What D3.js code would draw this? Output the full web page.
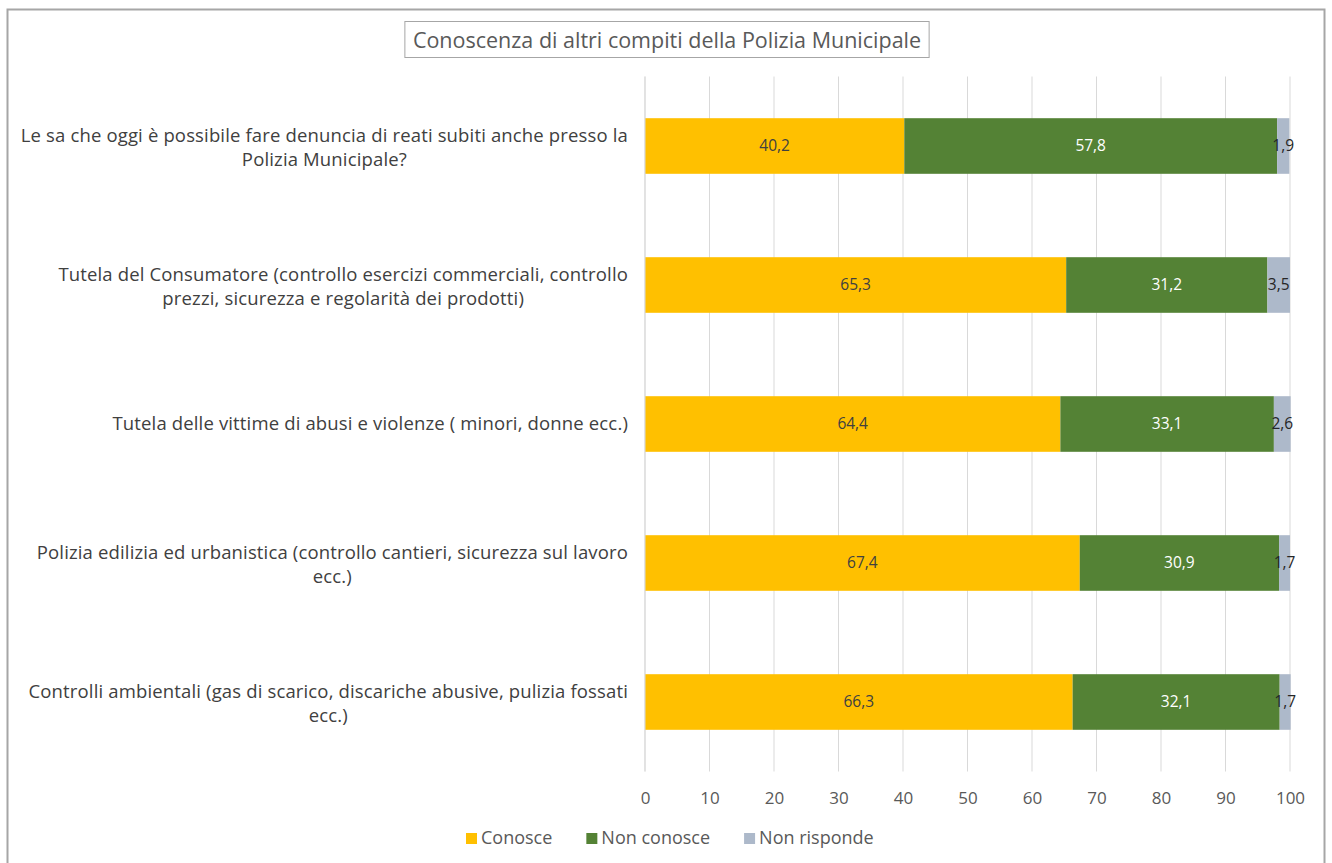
<!DOCTYPE html>
<html>
<head>
<meta charset="utf-8">
<script src="https://cdn.jsdelivr.net/npm/d3@7"></script>
<style>
  html, body { margin: 0; padding: 0; background: #fff; }
  svg { display: block; font-family: "Open Sans", Lato, sans-serif; }
</style>
</head>
<body>
<svg id="chart" width="1332" height="863"></svg>
<script>
// Survey answers, percentages per question
const categories = [
  "Le sa che oggi è possibile fare denuncia di reati subiti anche presso la\nPolizia Municipale?",
  "Tutela del Consumatore (controllo esercizi commerciali, controllo\nprezzi, sicurezza e regolarità dei prodotti)",
  "Tutela delle vittime di abusi e violenze ( minori, donne ecc.)",
  "Polizia edilizia ed urbanistica (controllo cantieri, sicurezza sul lavoro\necc.)",
  "Controlli ambientali (gas di scarico, discariche abusive, pulizia fossati\necc.)"
];
const seriesNames = ["Conosce", "Non conosce", "Non risponde"];
const conosce     = [40.2, 65.3, 64.4, 67.4, 66.3];
const nonConosce  = [57.8, 31.2, 33.1, 30.9, 32.1];
const nonRisponde = [1.9, 3.5, 2.6, 1.7, 1.7];
const xTicks = [0, 10, 20, 30, 40, 50, 60, 70, 80, 90, 100];
const titleText = "Conoscenza di altri compiti della Polizia Municipale";

const colors = ["#FFC000", "#548235", "#ADB9CA"];
const labelColors = ["#404040", "#ffffff", "#262626"];

const svg = d3.select("#chart");

// outer chart frame
svg.append("rect")
  .attr("x", 7.5).attr("y", 9.5).attr("width", 1317).attr("height", 870)
  .attr("fill", "#fff").attr("stroke", "#a6a6a6").attr("stroke-width", 2);

const margin = { left: 645, right: 42, top: 76.5, bottom: 91.5 };
const W = 1332, H = 863;

const x = d3.scaleLinear().domain([0, 100]).range([margin.left, W - margin.right]);
const y = d3.scaleBand().domain(d3.range(categories.length))
  .range([margin.top, H - margin.bottom]).paddingInner(0.6).paddingOuter(0.3);

// vertical gridlines
svg.append("g").selectAll("line").data(xTicks).join("line")
  .attr("x1", d => x(d)).attr("x2", d => x(d))
  .attr("y1", margin.top).attr("y2", H - margin.bottom)
  .attr("stroke", "#d9d9d9").attr("stroke-width", 1);

// x axis tick labels
const xAxis = d3.axisBottom(x).tickValues(xTicks).tickSize(0).tickPadding(20);
const gx = svg.append("g").attr("transform", `translate(0,${H - margin.bottom})`).call(xAxis);
gx.select(".domain").remove();
gx.selectAll("text").attr("fill", "#595959").style("font-size", "17px")
  .style("font-family", "'Open Sans', Lato, sans-serif");

// stacked series
const rows = categories.map((c, i) => ({ i, vals: [conosce[i], nonConosce[i], nonRisponde[i]] }));
const stacked = d3.stack().keys([0, 1, 2]).value((d, k) => d.vals[k])(rows);

const layers = svg.append("g").selectAll("g").data(stacked).join("g")
  .attr("fill", (d, k) => colors[k]);
layers.selectAll("rect").data(d => d).join("rect")
  .attr("x", d => x(d[0]))
  .attr("width", d => x(d[1]) - x(d[0]))
  .attr("y", d => y(d.data.i))
  .attr("height", y.bandwidth());

// value labels
const fmt = v => v.toFixed(1).replace(".", ",");
stacked.forEach((layer, k) => {
  svg.append("g").selectAll("text").data(layer).join("text")
    .attr("x", d => (x(d[0]) + x(d[1])) / 2)
    .attr("y", d => y(d.data.i) + y.bandwidth() / 2)
    .attr("dy", "0.35em")
    .attr("text-anchor", "middle")
    .attr("fill", labelColors[k])
    .style("font-size", "15.5px")
    .text(d => fmt(d.data.vals[k]));
});

// left axis line
svg.append("line")
  .attr("x1", x(0)).attr("x2", x(0))
  .attr("y1", margin.top).attr("y2", H - margin.bottom)
  .attr("stroke", "#d9d9d9");

// category labels: block right-aligned to the axis, lines centred within it
const labelRight = 628;
const lineH = 24;
categories.forEach((c, i) => {
  const lines = c.split("\n");
  const g = svg.append("g");
  const shift = lines.length > 1 ? 2 : 0;
  const texts = lines.map((ln, j) => g.append("text")
    .attr("y", y(i) + y.bandwidth() / 2 + shift + (j - (lines.length - 1) / 2) * lineH)
    .attr("dy", "0.35em")
    .attr("text-anchor", "middle")
    .attr("fill", "#404040")
    .style("font-size", "18.5px")
    .style("letter-spacing", "0.15px")
    .text(ln));
  const wMax = d3.max(texts, t => t.node().getComputedTextLength());
  texts.forEach(t => t.attr("x", labelRight - wMax / 2));
});

// title in a bordered box
const titleG = svg.append("g");
const titleBox = titleG.append("rect");
const title = titleG.append("text")
  .attr("x", 667).attr("y", 40).attr("dy", "0.35em")
  .attr("text-anchor", "middle").attr("fill", "#595959")
  .style("font-size", "21.5px").text(titleText);
const tw = title.node().getComputedTextLength();
titleBox
  .attr("x", 667 - tw / 2 - 8).attr("y", 21.5)
  .attr("width", tw + 16).attr("height", 36)
  .attr("fill", "#fff").attr("stroke", "#a6a6a6").attr("stroke-width", 1);

// legend
const legend = svg.append("g").attr("transform", "translate(0,838)");
let lx = 466;
seriesNames.forEach((name, k) => {
  legend.append("rect").attr("x", lx).attr("y", -5).attr("width", 11).attr("height", 11)
    .attr("fill", colors[k]);
  const t = legend.append("text").attr("x", lx + 15).attr("dy", "0.35em")
    .attr("fill", "#595959").style("font-size", "18px").text(name);
  lx += 15 + t.node().getComputedTextLength() + 34;
});
</script>
</body>
</html>
